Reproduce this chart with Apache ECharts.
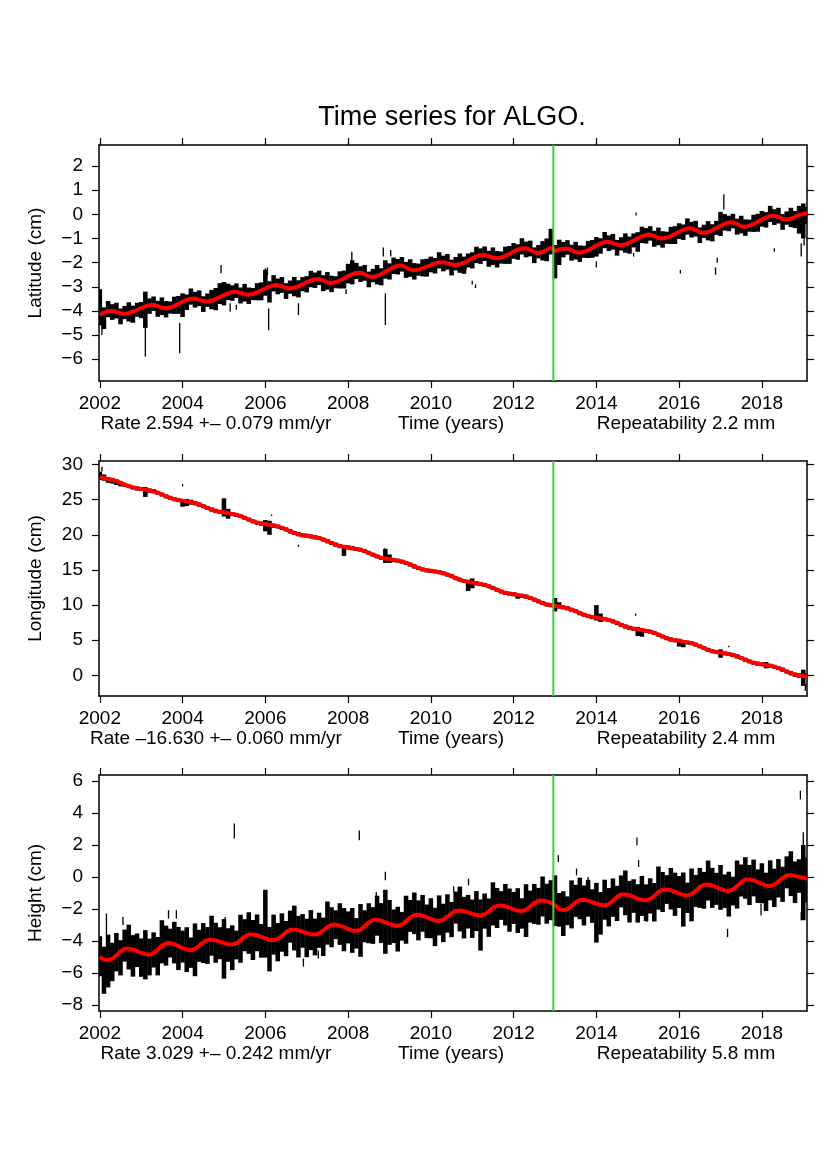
<!DOCTYPE html>
<html>
<head>
<meta charset="utf-8">
<script src="https://cdn.jsdelivr.net/npm/echarts@6/dist/echarts.min.js"></script>
<style>
html,body{margin:0;padding:0;background:#fff;}
#chart{width:826px;height:1169px;}
</style>
</head>
<body>
<div id="chart"></div>
<script>
// sample epochs (decimal years), one row per year
const epochs = [
  2002.0,2002.1,2002.2,2002.3,2002.4,2002.5,2002.6,2002.7,2002.8,2002.9,
  2003.0,2003.1,2003.2,2003.3,2003.4,2003.5,2003.6,2003.7,2003.8,2003.9,
  2004.0,2004.1,2004.2,2004.3,2004.4,2004.5,2004.6,2004.7,2004.8,2004.9,
  2005.0,2005.1,2005.2,2005.3,2005.4,2005.5,2005.6,2005.7,2005.8,2005.9,
  2006.0,2006.1,2006.2,2006.3,2006.4,2006.5,2006.6,2006.7,2006.8,2006.9,
  2007.0,2007.1,2007.2,2007.3,2007.4,2007.5,2007.6,2007.7,2007.8,2007.9,
  2008.0,2008.1,2008.2,2008.3,2008.4,2008.5,2008.6,2008.7,2008.8,2008.9,
  2009.0,2009.1,2009.2,2009.3,2009.4,2009.5,2009.6,2009.7,2009.8,2009.9,
  2010.0,2010.1,2010.2,2010.3,2010.4,2010.5,2010.6,2010.7,2010.8,2010.9,
  2011.0,2011.1,2011.2,2011.3,2011.4,2011.5,2011.6,2011.7,2011.8,2011.9,
  2012.0,2012.1,2012.2,2012.3,2012.4,2012.5,2012.6,2012.7,2012.8,2012.9,
  2013.0,2013.1,2013.2,2013.3,2013.4,2013.5,2013.6,2013.7,2013.8,2013.9,
  2014.0,2014.1,2014.2,2014.3,2014.4,2014.5,2014.6,2014.7,2014.8,2014.9,
  2015.0,2015.1,2015.2,2015.3,2015.4,2015.5,2015.6,2015.7,2015.8,2015.9,
  2016.0,2016.1,2016.2,2016.3,2016.4,2016.5,2016.6,2016.7,2016.8,2016.9,
  2017.0,2017.1,2017.2,2017.3,2017.4,2017.5,2017.6,2017.7,2017.8,2017.9,
  2018.0,2018.1,2018.2,2018.3,2018.4,2018.5,2018.6,2018.7,2018.8,2018.9,
  2019.0,2019.1
];

// ---- Latitude (cm): fitted model and scatter range per sample
const latFit = [
  -4.17,-4.07,-4.01,-3.99,-4.04,-4.10,-4.12,-4.09,-4.03,-3.96,
  -3.88,-3.81,-3.76,-3.75,-3.80,-3.87,-3.89,-3.86,-3.79,-3.71,
  -3.62,-3.54,-3.49,-3.48,-3.53,-3.59,-3.61,-3.58,-3.51,-3.43,
  -3.35,-3.27,-3.22,-3.21,-3.25,-3.31,-3.33,-3.30,-3.23,-3.15,
  -3.07,-2.99,-2.94,-2.93,-2.98,-3.05,-3.07,-3.04,-2.98,-2.90,
  -2.81,-2.74,-2.69,-2.68,-2.74,-2.82,-2.84,-2.81,-2.74,-2.66,
  -2.56,-2.48,-2.43,-2.42,-2.48,-2.57,-2.59,-2.55,-2.48,-2.38,
  -2.28,-2.19,-2.13,-2.12,-2.19,-2.29,-2.32,-2.29,-2.24,-2.17,
  -2.10,-2.03,-1.99,-1.98,-2.02,-2.08,-2.10,-2.07,-2.00,-1.92,
  -1.82,-1.74,-1.69,-1.68,-1.73,-1.80,-1.82,-1.79,-1.72,-1.64,
  -1.54,-1.46,-1.41,-1.40,-1.47,-1.57,-1.60,-1.56,-1.48,-1.38,
  -1.52,-1.45,-1.42,-1.42,-1.48,-1.57,-1.59,-1.55,-1.48,-1.39,
  -1.29,-1.21,-1.15,-1.14,-1.19,-1.26,-1.28,-1.24,-1.17,-1.09,
  -0.99,-0.91,-0.85,-0.84,-0.90,-0.98,-1.00,-0.97,-0.90,-0.82,
  -0.72,-0.64,-0.59,-0.58,-0.65,-0.74,-0.76,-0.73,-0.66,-0.57,
  -0.48,-0.39,-0.34,-0.33,-0.40,-0.49,-0.51,-0.47,-0.40,-0.31,
  -0.21,-0.13,-0.07,-0.06,-0.11,-0.19,-0.21,-0.18,-0.11,-0.03,
  0.02,0.05
];
const latHi = [
  -3.10,-3.85,-3.59,-3.72,-3.66,-3.90,-3.79,-3.64,-3.78,-3.66,
  -3.63,-3.20,-3.48,-3.40,-3.58,-3.44,-3.59,-3.61,-3.41,-3.38,
  -3.27,-3.32,-3.07,-3.21,-3.15,-3.39,-3.28,-3.13,-3.05,-2.85,
  -2.80,-2.87,-2.94,-2.86,-3.03,-2.88,-3.03,-3.05,-2.85,-2.82,
  -2.30,-2.77,-2.52,-2.66,-2.60,-2.85,-2.74,-2.59,-2.73,-2.60,
  -2.56,-2.34,-2.41,-2.33,-2.52,-2.39,-2.54,-2.56,-2.36,-2.33,
  -2.05,-1.90,-2.01,-2.15,-2.10,-2.37,-2.26,-2.10,-2.23,-1.90,
  -2.03,-1.79,-1.85,-1.77,-1.97,-1.86,-2.02,-2.04,-1.86,-1.84,
  -1.75,-1.81,-1.57,-1.71,-1.64,-1.88,-1.77,-1.62,-1.75,-1.62,
  -1.57,-1.34,-1.41,-1.33,-1.51,-1.37,-1.52,-1.54,-1.34,-1.31,
  -1.19,-1.24,-0.99,-1.13,-1.09,-1.37,-1.27,-1.11,-1.00,-0.60,
  -1.27,-1.05,-1.14,-1.07,-1.26,-1.14,-1.29,-1.30,-1.10,-1.06,
  -0.94,-0.99,-0.73,-0.87,-0.81,-1.06,-0.95,-0.79,-0.92,-0.79,
  -0.74,-0.51,-0.57,-0.49,-0.68,-0.55,-0.70,-0.72,-0.52,-0.49,
  -0.37,-0.42,-0.17,-0.31,-0.27,-0.54,-0.43,-0.28,-0.41,-0.27,
  0.10,0.01,-0.06,0.02,-0.18,-0.06,-0.21,-0.22,-0.02,0.02,
  0.14,0.09,0.35,0.21,0.27,0.01,0.12,0.27,0.14,0.35,
  0.45,0.30
];
const latLo = [
  -4.60,-4.75,-4.26,-4.37,-4.31,-4.55,-4.34,-4.44,-4.49,-4.24,
  -4.30,-4.70,-4.12,-4.00,-4.24,-4.17,-4.27,-4.11,-4.12,-4.12,
  -4.25,-3.96,-3.74,-3.86,-3.80,-4.04,-3.83,-3.93,-3.97,-3.71,
  -3.77,-3.55,-3.58,-3.46,-3.69,-3.61,-3.71,-3.55,-3.56,-3.56,
  -3.37,-3.65,-3.19,-3.31,-3.25,-3.50,-3.29,-3.39,-3.44,-3.18,
  -3.23,-3.02,-3.05,-2.93,-3.18,-3.12,-3.22,-3.06,-3.07,-3.07,
  -2.86,-2.90,-2.68,-2.80,-2.75,-3.02,-2.81,-2.90,-2.94,-2.66,
  -2.70,-2.47,-2.49,-2.37,-2.63,-2.59,-2.70,-2.54,-2.57,-2.58,
  -2.40,-2.45,-2.24,-2.36,-2.29,-2.53,-2.32,-2.42,-2.46,-2.20,
  -2.24,-2.02,-2.05,-1.93,-2.17,-2.10,-2.20,-2.04,-2.05,-2.05,
  -1.84,-1.88,-1.66,-1.78,-1.74,-2.02,-1.82,-1.91,-1.94,-1.66,
  -2.65,-2.10,-1.78,-1.67,-1.92,-1.87,-1.97,-1.80,-1.81,-1.80,
  -1.75,-1.63,-1.40,-1.52,-1.46,-1.71,-1.50,-1.59,-1.63,-1.37,
  -1.55,-1.19,-1.21,-1.09,-1.34,-1.28,-1.38,-1.22,-1.23,-1.23,
  -1.02,-1.06,-0.84,-0.96,-0.92,-1.19,-0.98,-1.08,-1.12,-0.85,
  -0.90,-0.67,-0.70,-0.58,-0.84,-0.79,-0.89,-0.72,-0.73,-0.72,
  -0.51,-0.55,-0.32,-0.44,-0.38,-0.64,-0.43,-0.53,-0.57,-0.80,
  -1.00,-0.40
];
const latOutT  = [2002.05,2003.10,2003.93,2004.93,2005.15,2005.30,2006.00,2006.05,2006.08,2006.80,2007.95,2008.09,2008.85,2008.90,2009.03,2010.85,2011.00,2011.08,2014.00,2014.90,2014.96,2016.03,2016.88,2016.92,2017.08,2018.30,2018.95,2019.02];
const latOutLo = [-5.00,-5.90,-5.75,-2.44,-4.03,-3.95,-2.58,-2.55,-4.80,-4.17,-3.30,-2.03,-1.75,-4.58,-1.75,-2.30,-2.90,-3.05,-2.20,-1.75,-0.05,-2.45,-2.50,-2.00,0.20,-1.55,-1.75,-1.30];
const latOutHi = [-4.60,-4.60,-4.50,-2.10,-3.68,-3.75,-2.23,-2.20,-3.90,-3.68,-3.10,-1.55,-1.37,-3.27,-1.48,-2.00,-2.75,-2.90,-1.95,-1.60,0.08,-2.30,-2.20,-1.80,0.83,-1.40,-1.20,-1.00];

// ---- Longitude (cm)
const lonFit = [
  28.20,28.08,27.97,27.85,27.65,27.42,27.15,26.92,26.72,26.60,
  26.54,26.42,26.31,26.19,25.99,25.76,25.49,25.26,25.06,24.94,
  24.87,24.75,24.64,24.52,24.32,24.09,23.82,23.59,23.39,23.27,
  23.21,23.09,22.98,22.86,22.66,22.43,22.16,21.93,21.73,21.61,
  21.55,21.43,21.32,21.20,21.00,20.77,20.50,20.27,20.07,19.95,
  19.89,19.77,19.66,19.54,19.34,19.11,18.84,18.61,18.41,18.29,
  18.22,18.10,17.99,17.87,17.67,17.44,17.17,16.94,16.74,16.62,
  16.56,16.44,16.33,16.21,16.01,15.78,15.51,15.28,15.08,14.96,
  14.90,14.78,14.67,14.55,14.35,14.12,13.85,13.62,13.42,13.30,
  13.23,13.11,13.00,12.88,12.68,12.45,12.18,11.95,11.75,11.63,
  11.57,11.45,11.34,11.22,11.02,10.79,10.52,10.29,10.09,9.97,
  9.91,9.79,9.68,9.56,9.36,9.13,8.86,8.63,8.43,8.31,
  8.24,8.12,8.01,7.89,7.69,7.46,7.19,6.96,6.76,6.64,
  6.58,6.46,6.35,6.23,6.03,5.80,5.53,5.30,5.10,4.98,
  4.92,4.80,4.69,4.57,4.37,4.14,3.87,3.64,3.44,3.32,
  3.26,3.14,3.03,2.91,2.71,2.48,2.21,1.98,1.78,1.66,
  1.59,1.47,1.36,1.24,1.04,0.81,0.54,0.31,0.11,-0.01,
  -0.07,-0.19
];
const lonHi = [
  29.00,28.60,28.20,28.10,27.90,27.65,27.40,27.20,27.00,26.90,
  26.80,26.80,26.60,26.50,26.25,26.00,25.75,25.55,25.35,25.20,
  25.10,25.10,25.00,24.80,24.60,24.35,24.10,23.90,23.70,23.55,
  25.20,23.70,23.25,23.10,22.90,22.70,22.45,22.20,22.00,21.90,
  22.10,22.00,21.60,21.45,21.25,21.05,20.80,20.55,20.40,20.20,
  20.15,20.05,19.95,19.80,19.60,19.40,19.10,18.90,18.70,18.40,
  18.50,18.40,18.25,18.15,17.95,17.70,17.45,17.20,17.00,18.00,
  17.20,16.70,16.60,16.45,16.25,16.05,15.80,15.55,15.35,15.20,
  15.15,15.05,14.95,14.80,14.60,14.40,14.10,13.90,13.70,13.60,
  13.80,13.40,13.25,13.15,12.95,12.70,12.45,12.20,12.00,11.90,
  11.85,11.60,11.60,11.50,11.30,11.05,10.80,10.55,10.35,10.25,
  11.00,10.40,9.95,9.85,9.60,9.40,9.10,8.90,8.70,8.55,
  10.00,8.80,8.30,8.15,7.95,7.75,7.45,7.25,7.05,6.90,
  6.90,6.70,6.60,6.50,6.30,6.05,5.80,5.55,5.40,5.25,
  5.20,5.00,4.95,4.85,4.65,4.40,4.15,3.90,3.70,3.60,
  3.70,3.40,3.30,3.20,3.00,2.75,2.50,2.25,2.05,1.95,
  1.85,1.90,1.65,1.50,1.30,1.10,0.80,0.60,0.40,0.30,
  0.80,0.30
];
const lonLo = [
  27.80,27.70,27.40,27.30,27.10,26.90,26.85,26.65,26.45,26.30,
  26.25,25.40,26.00,25.90,25.70,25.45,25.20,25.00,24.80,24.65,
  24.00,24.10,24.30,24.20,24.00,23.80,23.55,23.30,23.10,23.00,
  22.60,22.30,22.70,22.55,22.40,22.15,21.90,21.65,21.45,21.30,
  20.50,20.00,21.00,20.90,20.70,20.50,20.20,20.00,19.80,19.65,
  19.60,19.50,19.35,19.25,19.05,18.80,18.55,18.30,18.10,17.00,
  17.90,17.80,17.70,17.60,17.40,17.15,16.90,16.65,16.45,16.00,
  16.00,16.10,16.05,15.90,15.70,15.50,15.20,15.00,14.80,14.65,
  14.60,14.50,14.40,14.25,14.05,13.85,13.55,13.35,13.15,12.00,
  12.40,12.80,12.70,12.60,12.40,12.15,11.90,11.65,11.45,11.35,
  11.25,10.90,11.05,10.90,10.75,10.50,10.25,10.00,9.80,9.70,
  9.10,9.50,9.40,9.25,9.05,8.85,8.55,8.35,8.15,8.00,
  7.80,7.60,7.70,7.60,7.40,7.15,6.90,6.65,6.45,6.35,
  5.60,5.50,6.05,5.95,5.75,5.50,5.25,5.00,4.80,4.70,
  4.10,4.00,4.40,4.30,4.10,3.85,3.60,3.35,3.15,3.05,
  2.50,2.85,2.75,2.60,2.40,2.20,1.90,1.70,1.50,1.35,
  1.30,1.00,1.05,0.95,0.75,0.50,0.25,0.00,-0.20,-0.35,
  -1.50,-0.50
];
const lonOutT  = [2002.05,2004.00,2006.15,2006.80,2008.88,2014.95,2017.20,2019.05];
const lonOutLo = [29.00,26.90,22.70,18.30,17.80,8.50,4.00,-2.20];
const lonOutHi = [29.70,27.20,22.90,18.60,18.10,8.80,4.20,-1.20];

// ---- Height (cm)
const hgtFit = [
  -5.00,-5.15,-5.20,-5.11,-4.90,-4.65,-4.49,-4.48,-4.53,-4.63,
  -4.74,-4.82,-4.85,-4.76,-4.55,-4.30,-4.14,-4.13,-4.20,-4.32,
  -4.45,-4.54,-4.58,-4.50,-4.30,-4.08,-3.93,-3.92,-3.96,-4.04,
  -4.13,-4.20,-4.22,-4.15,-3.96,-3.74,-3.60,-3.59,-3.64,-3.74,
  -3.84,-3.92,-3.95,-3.87,-3.67,-3.45,-3.30,-3.29,-3.33,-3.42,
  -3.51,-3.57,-3.60,-3.53,-3.34,-3.13,-2.99,-2.98,-3.04,-3.14,
  -3.25,-3.34,-3.37,-3.29,-3.08,-2.84,-2.68,-2.67,-2.73,-2.83,
  -2.94,-3.03,-3.06,-2.98,-2.77,-2.53,-2.37,-2.36,-2.42,-2.52,
  -2.63,-2.72,-2.75,-2.67,-2.48,-2.26,-2.11,-2.10,-2.14,-2.22,
  -2.31,-2.38,-2.40,-2.33,-2.14,-1.93,-1.79,-1.78,-1.83,-1.92,
  -2.03,-2.10,-2.13,-2.05,-1.85,-1.63,-1.48,-1.47,-1.52,-1.60,
  -1.77,-2.00,-2.09,-2.01,-1.81,-1.59,-1.44,-1.43,-1.48,-1.57,
  -1.67,-1.74,-1.77,-1.69,-1.49,-1.25,-1.10,-1.09,-1.14,-1.24,
  -1.35,-1.43,-1.46,-1.38,-1.18,-0.94,-0.79,-0.78,-0.83,-0.93,
  -1.04,-1.12,-1.15,-1.07,-0.87,-0.63,-0.48,-0.47,-0.53,-0.64,
  -0.75,-0.84,-0.87,-0.78,-0.57,-0.32,-0.16,-0.15,-0.21,-0.32,
  -0.44,-0.53,-0.56,-0.48,-0.28,-0.06,0.09,0.11,0.07,0.01,
  -0.05,-0.10
];
const hgtHi = [
  -3.70,-4.35,-3.60,-4.11,-3.50,-3.95,-3.29,-2.98,-3.63,-3.53,
  -3.84,-3.32,-3.85,-3.46,-3.75,-2.70,-3.04,-3.23,-2.80,-3.12,
  -3.35,-3.14,-3.78,-2.90,-3.30,-2.88,-3.13,-2.42,-2.86,-3.14,
  -2.63,-3.20,-3.02,-3.35,-2.36,-2.64,-2.20,-2.69,-2.34,-2.94,
  -0.80,-3.12,-2.35,-2.87,-2.27,-2.75,-2.10,-1.79,-2.43,-2.32,
  -2.61,-2.07,-2.60,-2.23,-2.54,-1.53,-1.89,-2.08,-1.64,-1.94,
  -2.15,-1.94,-2.57,-1.69,-2.08,-1.64,-1.88,-1.17,-1.63,-0.80,
  -1.44,-2.03,-1.86,-2.18,-1.17,-1.43,-0.97,-1.46,-1.12,-1.72,
  -1.33,-1.92,-1.15,-1.67,-1.08,-1.56,-0.91,-0.60,-1.24,-1.12,
  -1.41,-0.88,-1.40,-1.03,-1.34,-0.33,-0.69,-0.88,-0.43,-0.72,
  -0.93,-0.70,-1.33,-0.45,-0.85,-0.43,-0.68,0.03,-0.42,-0.20,
  0.10,-1.00,-0.89,-1.21,-0.21,-0.49,-0.04,-0.53,-0.18,-0.77,
  -0.37,-0.94,-0.17,-0.69,-0.09,-0.55,0.10,0.41,-0.24,-0.14,
  -0.45,0.07,-0.46,-0.08,-0.38,0.66,0.31,0.12,0.57,0.27,
  0.06,0.28,-0.35,0.53,0.13,0.57,0.32,1.03,0.57,0.26,
  0.75,0.16,0.33,0.02,1.03,0.78,1.24,0.75,1.09,0.48,
  0.86,0.27,1.04,0.52,1.12,0.64,1.29,1.61,0.97,1.11,
  2.00,1.20
];
const hgtLo = [
  -6.20,-7.30,-6.90,-6.51,-5.90,-6.15,-5.29,-5.78,-6.23,-5.63,
  -6.24,-6.40,-6.15,-5.66,-6.15,-5.40,-5.54,-5.03,-5.40,-5.82,
  -5.35,-5.94,-5.68,-6.20,-5.30,-5.38,-5.43,-4.92,-5.36,-5.14,
  -6.35,-5.30,-5.82,-5.15,-5.36,-4.64,-4.80,-5.19,-4.64,-5.04,
  -5.04,-5.90,-4.85,-5.27,-4.67,-4.95,-4.10,-4.59,-5.03,-4.42,
  -5.01,-4.57,-4.90,-4.43,-4.94,-4.23,-4.39,-3.88,-4.24,-4.64,
  -4.15,-4.74,-4.47,-4.99,-4.08,-4.14,-4.18,-3.67,-4.13,-4.80,
  -4.24,-4.13,-4.66,-3.98,-4.17,-3.43,-3.57,-3.96,-3.42,-3.82,
  -3.83,-4.32,-3.65,-4.07,-3.48,-3.76,-2.91,-3.40,-3.84,-3.22,
  -3.81,-3.38,-4.60,-3.23,-3.74,-3.03,-3.19,-2.68,-3.03,-3.42,
  -2.93,-3.50,-3.23,-3.75,-2.85,-2.93,-2.98,-2.47,-2.92,-2.70,
  -3.07,-3.10,-3.69,-3.01,-3.21,-2.49,-2.64,-3.03,-2.48,-2.87,
  -4.10,-3.60,-2.67,-3.09,-2.49,-2.75,-1.90,-2.39,-2.84,-2.24,
  -2.85,-2.43,-2.76,-2.28,-2.78,-2.04,-2.19,-1.68,-2.03,-2.43,
  -1.94,-3.10,-2.25,-2.77,-1.87,-1.93,-1.98,-1.47,-1.93,-1.74,
  -2.05,-1.94,-2.47,-1.78,-1.97,-1.22,-1.36,-1.75,-1.21,-1.62,
  -1.64,-2.13,-1.46,-1.88,-1.28,-1.56,-0.71,-1.19,-1.63,-0.99,
  -2.70,-1.60
];
const hgtOutT  = [2002.16,2002.56,2003.66,2003.85,2005.03,2005.25,2006.92,2007.28,2008.27,2008.68,2008.90,2010.55,2010.91,2013.08,2013.52,2013.80,2014.98,2015.02,2015.22,2017.17,2017.98,2018.93,2018.95,2019.00];
const hgtOutLo = [-3.74,-3.00,-2.60,-2.60,-3.00,2.41,-5.60,-5.10,2.30,-1.55,-0.20,-0.94,-0.52,0.94,0.10,-0.30,1.99,0.63,-2.80,-3.76,-2.40,4.85,-2.70,1.78];
const hgtOutHi = [-2.28,-2.50,-2.07,-2.07,-2.50,3.35,-5.10,-4.60,2.90,-0.93,0.33,-0.58,-0.10,1.36,0.53,0.00,2.47,1.05,-2.50,-3.24,-1.67,5.40,-2.20,2.80];

const breakEpoch = 2012.96;
const yearTicks = [2002, 2004, 2006, 2008, 2010, 2012, 2014, 2016, 2018];
const latTicks = [-6, -5, -4, -3, -2, -1, 0, 1, 2];
const lonTicks = [0, 5, 10, 15, 20, 25, 30];
const hgtTicks = [-8, -6, -4, -2, 0, 2, 4, 6];
const panelNames = ['Latitude (cm)', 'Longitude (cm)', 'Height (cm)'];
const rateTexts = ['Rate 2.594 +– 0.079 mm/yr', 'Rate –16.630 +– 0.060 mm/yr', 'Rate 3.029 +– 0.242 mm/yr'];
const repeatTexts = ['Repeatability 2.2 mm', 'Repeatability 2.4 mm', 'Repeatability 5.8 mm'];
const titleText = 'Time series for ALGO.';

const FONT = '"Liberation Sans", Arial, Helvetica, sans-serif';
const HALF_STEP = 0.05;

const panels = [
  {top: 145, height: 236, min: -6.9, max: 2.87, ticks: latTicks, fit: latFit, hi: latHi, lo: latLo, oT: latOutT, oLo: latOutLo, oHi: latOutHi},
  {top: 461, height: 235, min: -2.94, max: 30.51, ticks: lonTicks, fit: lonFit, hi: lonHi, lo: lonLo, oT: lonOutT, oLo: lonOutLo, oHi: lonOutHi},
  {top: 775, height: 236, min: -8.375, max: 6.375, ticks: hgtTicks, fit: hgtFit, hi: hgtHi, lo: hgtLo, oT: hgtOutT, oLo: hgtOutLo, oHi: hgtOutHi}
];

const yFmt = v => String(v).replace('-', '\u2212');
const xFmt = v => String(v);

// solid column covering one sample step, lo..hi
function bandItem(params, api) {
  const t = api.value(0);
  const a = api.coord([t - HALF_STEP, api.value(2)]);
  const b = api.coord([t + HALF_STEP, api.value(1)]);
  return {
    type: 'rect',
    shape: {x: a[0] - 0.2, y: a[1], width: b[0] - a[0] + 0.4, height: Math.max(b[1] - a[1], 1)},
    style: {fill: '#000'}
  };
}

// thin vertical stroke for isolated points
function spikeItem(params, api) {
  const top = api.coord([api.value(0), api.value(2)]);
  const bot = api.coord([api.value(0), api.value(1)]);
  return {
    type: 'line',
    shape: {x1: top[0], y1: top[1], x2: bot[0], y2: Math.max(bot[1], top[1] + 1)},
    style: {stroke: '#000', lineWidth: 1.3}
  };
}

function breakItem(params, api) {
  const p = api.coord([api.value(0), 0]);
  const cs = params.coordSys;
  return {
    type: 'line',
    shape: {x1: p[0], y1: cs.y, x2: p[0], y2: cs.y + cs.height},
    style: {stroke: '#3fcc3f', lineWidth: 2}
  };
}

const grid = [], xAxis = [], yAxis = [], series = [], graphic = [];

graphic.push({type: 'text', x: 452, y: 118, style: {text: titleText, font: '27px ' + FONT, fill: '#000', align: 'center', verticalAlign: 'middle'}});

panels.forEach((p, i) => {
  grid.push({left: 99, width: 708, top: p.top, height: p.height});
  const axLine = {show: true, onZero: false, lineStyle: {color: '#000', width: 1.5}};
  const tick = ticks => ({show: true, customValues: ticks, length: 7, lineStyle: {color: '#000', width: 1.2}});
  xAxis.push({
    gridIndex: i, type: 'value', position: 'bottom', min: 2001.98, max: 2019.09,
    axisLine: axLine, axisTick: tick(yearTicks),
    axisLabel: {customValues: yearTicks, formatter: xFmt, fontSize: 19, fontFamily: FONT, color: '#000', margin: 13},
    splitLine: {show: false}
  });
  xAxis.push({
    gridIndex: i, type: 'value', position: 'top', min: 2001.98, max: 2019.09,
    axisLine: axLine, axisTick: tick(yearTicks),
    axisLabel: {show: false}, splitLine: {show: false}
  });
  yAxis.push({
    gridIndex: i, type: 'value', position: 'left', min: p.min, max: p.max,
    name: panelNames[i], nameLocation: 'middle', nameGap: 54, nameRotate: 90,
    nameTextStyle: {fontSize: 19, fontFamily: FONT, color: '#000'},
    axisLine: axLine, axisTick: tick(p.ticks),
    axisLabel: {customValues: p.ticks, formatter: yFmt, fontSize: 19, fontFamily: FONT, color: '#000', margin: 16},
    splitLine: {show: false}
  });
  yAxis.push({
    gridIndex: i, type: 'value', position: 'right', min: p.min, max: p.max,
    axisLine: axLine, axisTick: tick(p.ticks),
    axisLabel: {show: false}, splitLine: {show: false}
  });

  const xi = 2 * i, yi = 2 * i;
  series.push({
    type: 'custom', xAxisIndex: xi, yAxisIndex: yi, clip: true, z: 2,
    renderItem: bandItem,
    data: epochs.map((t, k) => [t, p.lo[k], p.hi[k]])
  });
  series.push({
    type: 'custom', xAxisIndex: xi, yAxisIndex: yi, clip: true, z: 2,
    renderItem: spikeItem,
    data: p.oT.map((t, k) => [t, p.oLo[k], p.oHi[k]])
  });
  series.push({
    type: 'line', xAxisIndex: xi, yAxisIndex: yi, z: 3,
    showSymbol: false, symbol: 'none',
    lineStyle: {color: '#ff0000', width: 4},
    data: epochs.map((t, k) => [t, p.fit[k]])
  });
  series.push({
    type: 'custom', xAxisIndex: xi, yAxisIndex: yi, z: 4,
    renderItem: breakItem,
    data: [[breakEpoch]]
  });

  const ty = p.top + p.height + 43;
  graphic.push({type: 'text', x: 216, y: ty, style: {text: rateTexts[i], font: '19px ' + FONT, fill: '#000', align: 'center', verticalAlign: 'middle'}});
  graphic.push({type: 'text', x: 451, y: ty, style: {text: 'Time (years)', font: '19px ' + FONT, fill: '#000', align: 'center', verticalAlign: 'middle'}});
  graphic.push({type: 'text', x: 686, y: ty, style: {text: repeatTexts[i], font: '19px ' + FONT, fill: '#000', align: 'center', verticalAlign: 'middle'}});
});

const chart = echarts.init(document.getElementById('chart'));
chart.setOption({
  backgroundColor: '#fff',
  animation: false,
  grid: grid,
  xAxis: xAxis,
  yAxis: yAxis,
  series: series,
  graphic: graphic
});
</script>
</body>
</html>
